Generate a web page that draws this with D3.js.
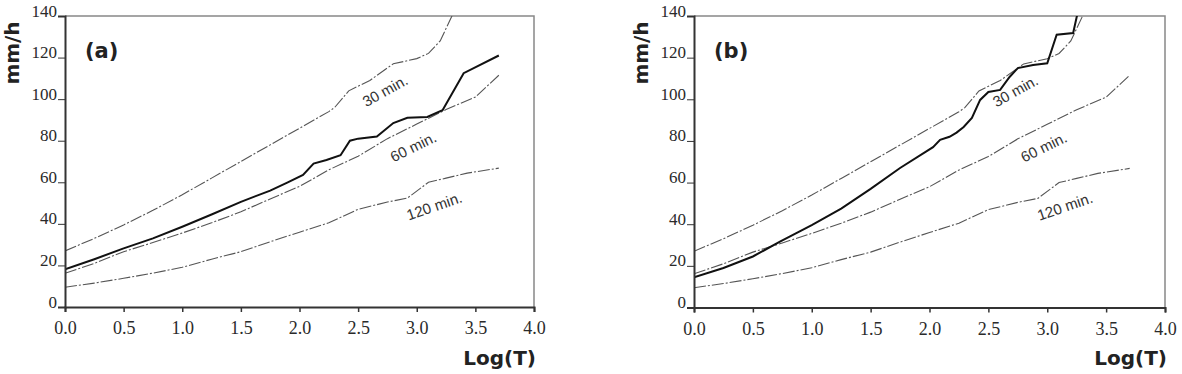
<!DOCTYPE html>
<html>
<head>
<meta charset="utf-8">
<script src="https://cdn.jsdelivr.net/npm/d3@7"></script>
<style>
  body { margin: 0; background: #fff; }
  svg { display: block; }
  .tick text { font-family: "Liberation Serif", "Times New Roman", serif; fill: #2a2a2a; }
  .lbl { font-family: "DejaVu Sans", Verdana, sans-serif; font-weight: bold; fill: #222; }
  .ann { font-family: "Liberation Sans", Arial, sans-serif; fill: #333; }
</style>
</head>
<body>
<div id="chart"></div>
<script>
// --- data (log of return period vs intensity, mm/h) ---
var xTicks = [0.0, 0.5, 1.0, 1.5, 2.0, 2.5, 3.0, 3.5, 4.0];
var yTicks = [0, 20, 40, 60, 80, 100, 120, 140];

// IDF curves, same in both panels
var logT30 = [0, 0.25, 0.5, 0.75, 1.0, 1.25, 1.5, 1.75, 2.0, 2.25, 2.3, 2.42, 2.6, 2.8, 3.0, 3.1, 3.2, 3.3, 3.4];
var mm30 = [27, 33, 39.5, 46.5, 54, 62, 70, 78, 86, 94, 96, 104, 109, 117, 119.5, 122, 128, 140, 156];

var logT60 = [0, 0.25, 0.5, 0.75, 1.0, 1.25, 1.5, 1.75, 2.0, 2.25, 2.5, 2.75, 3.0, 3.25, 3.5, 3.7];
var mm60 = [16.2, 21, 26.6, 31, 35.6, 40.5, 45.8, 52, 58, 66, 72.5, 81, 88, 95, 101, 111.5];

var logT120 = [0, 0.25, 0.5, 0.75, 1.0, 1.25, 1.5, 1.75, 2.0, 2.25, 2.5, 2.75, 2.92, 3.1, 3.25, 3.43, 3.7];
var mm120 = [9.5, 11.5, 13.8, 16.3, 19.1, 23, 26.6, 31.4, 36, 40.5, 47, 50.5, 52.4, 60, 62, 64.4, 66.8];

// observed series
var logTa = [0, 0.25, 0.5, 0.75, 1.0, 1.25, 1.5, 1.75, 1.9, 2.03, 2.12, 2.23, 2.35, 2.43, 2.5, 2.66, 2.8, 2.92, 3.09, 3.22, 3.4, 3.7];
var mmA = [18.1, 23, 28.2, 33, 38.6, 44.5, 50.6, 56, 60, 63.5, 69, 70.7, 73, 80, 81, 82, 88.5, 91, 91.4, 94.7, 112.5, 121];

var logTb = [0, 0.25, 0.5, 0.73, 1.0, 1.25, 1.5, 1.75, 2.03, 2.09, 2.17, 2.23, 2.29, 2.36, 2.43, 2.5, 2.6, 2.68, 2.75, 2.88, 3.0, 3.08, 3.22, 3.25, 3.3];
var mmB = [14.5, 19, 24.5, 31.6, 39.6, 47.5, 57, 67, 77, 80.5, 82, 84, 86.7, 91, 99.7, 103.5, 104.5, 110.7, 115, 116.5, 117.3, 131, 131.8, 139.5, 150];

var curveNames = ["30 min.", "60 min.", "120 min."];
var annLogT = [2.73, 2.97, 3.15];
var annMm = [104, 77, 48.5];
var annAngle = [-29, -26, -19];

function zip(xs, ys) { return xs.map(function (x, i) { return [x, ys[i]]; }); }

var width = 1182, height = 374;
var svg = d3.select("#chart").append("svg")
    .attr("width", width)
    .attr("height", height);

var panels = [
    { id: "a", tag: "(a)", left: 65, right: 534, top: 16, bottom: 307, obs: zip(logTa, mmA), yLabX: 19 },
    { id: "b", tag: "(b)", left: 694, right: 1165, top: 16, bottom: 307.5, obs: zip(logTb, mmB), yLabX: 648 }
];

var idf = [zip(logT30, mm30), zip(logT60, mm60), zip(logT120, mm120)];

panels.forEach(function (p) {
    var x = d3.scaleLinear().domain([0, 4]).range([p.left, p.right]);
    var y = d3.scaleLinear().domain([0, 140]).range([p.bottom, p.top]);
    var g = svg.append("g");

    g.append("clipPath").attr("id", "clip-" + p.id)
        .append("rect")
        .attr("x", p.left).attr("y", p.top)
        .attr("width", p.right - p.left).attr("height", p.bottom - p.top);

    // frame (top & right)
    g.append("path")
        .attr("d", "M" + p.left + "," + p.top + "H" + p.right + "V" + p.bottom)
        .attr("fill", "none")
        .attr("stroke", "#888")
        .attr("stroke-width", 1.5);

    var line = d3.line()
        .x(function (d) { return x(d[0]); })
        .y(function (d) { return y(d[1]); });

    var lines = g.append("g").attr("clip-path", "url(#clip-" + p.id + ")");
    lines.selectAll("path.idf")
        .data(idf)
        .enter().append("path")
        .attr("class", "idf")
        .attr("d", line)
        .attr("fill", "none")
        .attr("stroke", "#555")
        .attr("stroke-width", 1.1)
        .attr("stroke-dasharray", "12,2,2,2");

    lines.append("path")
        .attr("d", line(p.obs))
        .attr("fill", "none")
        .attr("stroke", "#111")
        .attr("stroke-width", 2);

    // curve annotations
    g.selectAll("text.ann")
        .data(curveNames)
        .enter().append("text")
        .attr("class", "ann")
        .attr("font-size", 15)
        .attr("text-anchor", "middle")
        .attr("dy", "0.35em")
        .attr("transform", function (d, i) {
            return "translate(" + x(annLogT[i]) + "," + y(annMm[i]) + ") rotate(" + annAngle[i] + ")";
        })
        .text(function (d) { return d; });

    // axes
    var xAxis = d3.axisBottom(x).tickValues(xTicks).tickFormat(d3.format(".1f"))
        .tickSize(5).tickPadding(6);
    var gx = g.append("g").attr("transform", "translate(0," + p.bottom + ")").call(xAxis);
    gx.select(".domain").attr("stroke", "#333").attr("stroke-width", 2);
    gx.selectAll(".tick line").attr("stroke", "#333").attr("stroke-width", 1.5);
    gx.selectAll(".tick text").attr("font-size", 18).attr("dy", "0.9em");

    var yAxis = d3.axisLeft(y).tickValues(yTicks).tickSize(7).tickPadding(1);
    var gy = g.append("g").attr("transform", "translate(" + p.left + ",0)").call(yAxis);
    gy.select(".domain").attr("stroke", "#333").attr("stroke-width", 2);
    gy.selectAll(".tick line").attr("stroke", "#333").attr("stroke-width", 1);
    gy.selectAll(".tick text").attr("font-size", 17).attr("dy", "0");

    // labels
    g.append("text").attr("class", "lbl")
        .attr("x", p.left + 20).attr("y", 58)
        .attr("font-size", 21)
        .text(p.tag);

    g.append("text").attr("class", "lbl")
        .attr("x", p.right + 2).attr("y", 365)
        .attr("text-anchor", "end")
        .attr("font-size", 20)
        .text("Log(T)");

    g.append("text").attr("class", "lbl")
        .attr("transform", "translate(" + p.yLabX + "," + 53 + ") rotate(-90)")
        .attr("text-anchor", "middle")
        .attr("font-size", 20)
        .text("mm/h");
});
</script>
</body>
</html>
